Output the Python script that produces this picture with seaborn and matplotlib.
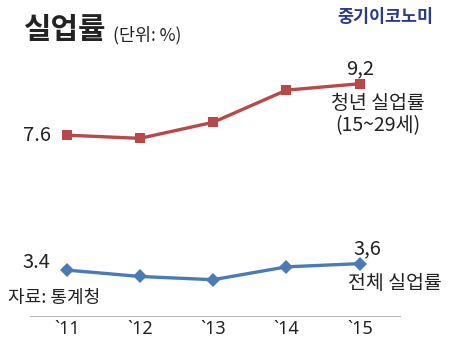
import matplotlib
matplotlib.use("Agg")
import matplotlib.pyplot as plt
import seaborn as sns
import pandas as pd

years = ["`11", "`12", "`13", "`14", "`15"]
youth = [7.6, 7.5, 8.0, 9.0, 9.2]
total = [3.4, 3.2, 3.1, 3.5, 3.6]

sns.set_theme(style="white")
plt.rcParams['font.family'] = ['Noto Sans CJK KR', 'DejaVu Sans']

fig = plt.figure(figsize=(4.5, 3.5), dpi=100)
ax = fig.add_axes([30/450, 34/350, 370/450, 266/350])

x = list(range(len(years)))
df = pd.DataFrame({"x": x * 2, "v": youth + total,
                   "s": ["youth"] * 5 + ["total"] * 5})
red = "#b8484a"
blue = "#4a7bb7"
sns.lineplot(data=df[df.s == "youth"], x="x", y="v", ax=ax, color=red,
             marker="s", markersize=7, markeredgewidth=0, linewidth=2.4)
sns.lineplot(data=df[df.s == "total"], x="x", y="v", ax=ax, color=blue,
             marker="D", markersize=7, markeredgewidth=0, linewidth=2.4)

ax.set_xlim(-0.5, 4.55)
ax.set_ylim(1.97, 10.25)
ax.set_xticks(x)
ax.set_xticklabels(years, fontsize=13, color="#222222", family=["Noto Sans", "DejaVu Sans"])
ax.set_yticks([])
ax.set_xlabel("")
ax.set_ylabel("")
for s in ["left", "right", "top"]:
    ax.spines[s].set_visible(False)
ax.spines["bottom"].set_color("#bbbbbb")
ax.spines["bottom"].set_linewidth(0.8)
ax.tick_params(axis="x", length=0, pad=3)

tc = "#222222"
ax.text(-0.22, youth[0], "7.6", ha="right", va="center", fontsize=14.5, color=tc)
ax.text(-0.22, total[0] + 0.25, "3.4", ha="right", va="center", fontsize=14.5, color=tc)
ax.text(4.0, youth[4] + 0.15, "9,2", ha="center", va="bottom", fontsize=14.5, color=tc)
ax.text(4.1, total[4] + 0.15, "3,6", ha="center", va="bottom", fontsize=14.5, color=tc)
ax.text(4.25, youth[4] - 0.3, "청년 실업률\n(15~29세)", ha="center", va="top",
        fontsize=14, color=tc, linespacing=1.05)
ax.text(4.48, total[4] - 0.3, "전체 실업률", ha="center", va="top", fontsize=14, color=tc)

fig.text(8/450, 1 - 298/350, "자료: 통계청", ha="left", va="center", fontsize=13, color=tc)
fig.text(24/450, 1 - 30/350, "실업률", ha="left", va="center", fontsize=21.5,
         fontweight="bold", color="#222222")
fig.text(113/450, 1 - 35/350, "(단위: %)", ha="left", va="center", fontsize=12.5, color=tc)
fig.text(433/450, 1 - 17/350, "중기이코노미", ha="right", va="center", fontsize=12.5,
         fontweight="bold", color="#2b3a8c")

fig.savefig("out.png", dpi=100, facecolor="white")
